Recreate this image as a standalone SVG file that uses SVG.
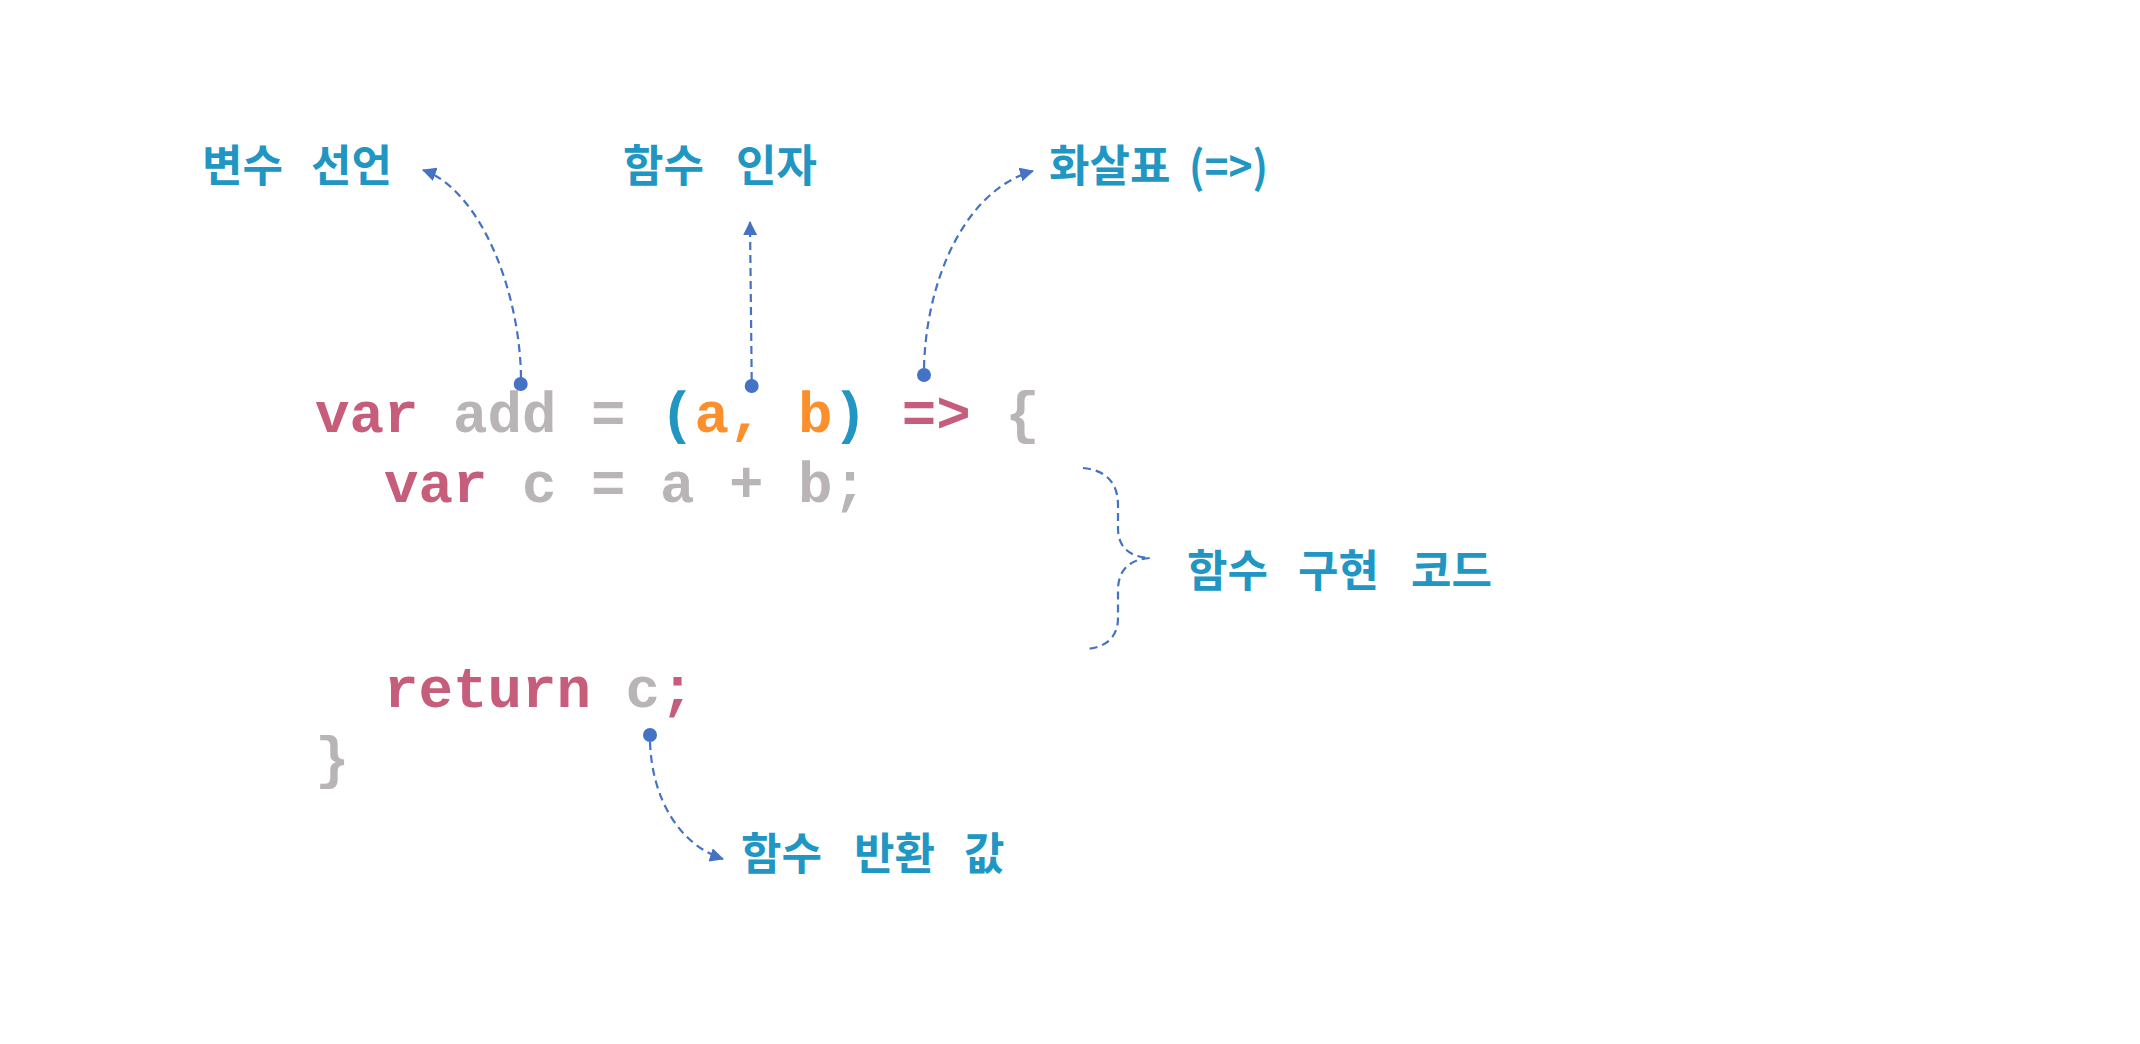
<svg xmlns="http://www.w3.org/2000/svg" width="2140" height="1044" viewBox="0 0 2140 1044">
  <style>
    .code { font-family: "Liberation Mono", "Courier New", monospace; font-weight: bold; font-size: 57.5px; white-space: pre; }
    .kw { fill: #C65D7B; }
    .gr { fill: #B9B5B7; }
    .or { fill: #FA8F2C; }
    .bl { fill: #2196C3; }
    .label { font-family: "Noto Sans CJK KR", "Noto Sans", sans-serif; font-weight: bold; font-size: 44px; fill: #2196C3; }
    .conn { fill: none; stroke: #4472C4; stroke-width: 2.2; stroke-dasharray: 8 5; }
    .dot { fill: #4472C4; }
  </style>
  <defs>
    <marker id="arrow" markerUnits="userSpaceOnUse" markerWidth="14" markerHeight="14" viewBox="0 0 14 14" refX="13" refY="7" orient="auto">
      <path d="M0,0 L14,7 L0,14 z" fill="#4472C4"/>
    </marker>
  </defs>
  <rect width="2140" height="1044" fill="#FFFFFF"/>

  <g id="code">
    <text class="code" x="315" y="432" xml:space="preserve"><tspan class="kw">var</tspan><tspan class="gr"> add = </tspan><tspan class="bl">(</tspan><tspan class="or">a, b</tspan><tspan class="bl">)</tspan><tspan class="gr"> </tspan><tspan class="kw">=&gt;</tspan><tspan class="gr"> {</tspan></text>
    <text class="code" x="384" y="502" xml:space="preserve"><tspan class="kw">var</tspan><tspan class="gr"> c = a + b;</tspan></text>
    <text class="code" x="384" y="707" xml:space="preserve"><tspan class="kw">return</tspan><tspan class="gr"> c</tspan><tspan class="kw">;</tspan></text>
    <text class="code gr" x="315" y="777">}</text>
  </g>

  <g id="label-var-decl">
    <text class="label" y="182"><tspan x="202">변수</tspan><tspan x="311">선언</tspan></text>
  </g>
  <g id="label-params">
    <text class="label" y="182"><tspan x="623">함수</tspan><tspan x="736">인자</tspan></text>
  </g>
  <g id="label-arrow">
    <text class="label" x="1049" y="182">화살표</text>
    <text class="label" x="1189" y="183" font-size="29" textLength="79" lengthAdjust="spacingAndGlyphs">(=&gt;)</text>
  </g>
  <g id="label-body">
    <text class="label" y="587"><tspan x="1187">함수</tspan><tspan x="1298">구현</tspan><tspan x="1411">코드</tspan></text>
  </g>
  <g id="label-return">
    <text class="label" y="870"><tspan x="741">함수</tspan><tspan x="854">반환</tspan><tspan x="964">값</tspan></text>
  </g>

  <g id="connectors">
    <path class="conn" d="M521,378 C520,290 480,190 423,170" marker-end="url(#arrow)"/>
    <path class="conn" d="M751.7,380 L750,222" marker-end="url(#arrow)"/>
    <path class="conn" d="M924,368 C926,280 965,190 1033,171" marker-end="url(#arrow)"/>
    <path class="conn" d="M650,742 C652,800 680,845 723,859" marker-end="url(#arrow)"/>
    <path class="conn" d="M1083,468 C1105,470 1118,482 1118,505 L1118,528 C1118,548 1130,557 1150,558 C1130,559 1118,570 1118,590 L1118,618 C1118,638 1105,648 1085,649"/>
    <circle class="dot" cx="520.7" cy="384" r="7"/>
    <circle class="dot" cx="751.7" cy="386" r="7"/>
    <circle class="dot" cx="924" cy="375" r="7"/>
    <circle class="dot" cx="650" cy="735" r="7"/>
  </g>
</svg>
